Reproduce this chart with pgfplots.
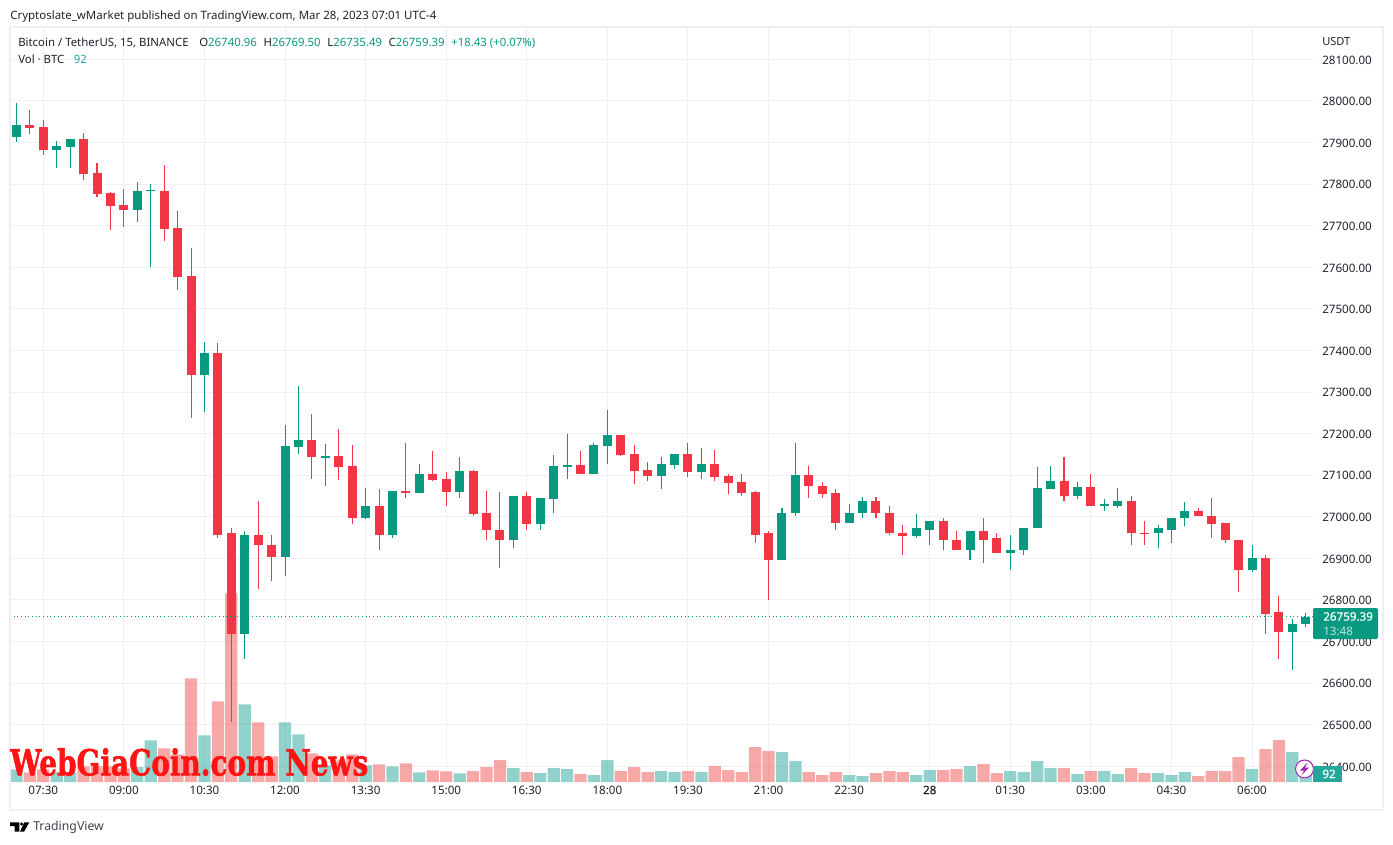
\documentclass[border=0pt]{standalone}
\usepackage{fontspec}
\setmainfont{Noto Sans}
\newfontfamily\wmfont[FakeBold=1.6]{DejaVu Serif}
\newfontfamily\fakeb[FakeBold=0.35]{Noto Sans}
\usepackage{pgfplots}
\usepackage{pgfplotstable}
\pgfplotsset{compat=1.18}
\definecolor{upc}{HTML}{089981}
\definecolor{dnc}{HTML}{F23645}
\definecolor{vup}{HTML}{26A69A}
\definecolor{vdn}{HTML}{EF5350}
\definecolor{gridc}{HTML}{EFF0F3}
\definecolor{framec}{HTML}{EEEFF4}
\definecolor{txt}{HTML}{1E222D}
\definecolor{boltc}{HTML}{9C27B0}
\definecolor{wmc}{HTML}{FF1414}
\pgfplotstableread{
i o h l c v
0 27914 27996 27902 27941 127
3 27883 27904 27839 27892 100
4 27890 27909 27839 27909 100
9 27738 27806 27709 27784 150
10 27783 27801 27600 27786 417
14 27340 27420 27251 27393 467
17 26718 26965 26658 26957 777
20 26903 27220 26858 27169 597
21 27167 27314 27150 27184 477
23 27142 27174 27075 27145 167
26 26996 27068 26994 27025 167
28 26957 27061 26950 27061 157
30 27056 27128 27056 27104 97
33 27059 27143 27044 27109 87
37 26943 27049 26926 27049 140
39 26982 27044 26967 27044 90
40 27042 27148 27010 27121 140
41 27119 27198 27090 27124 130
43 27102 27177 27102 27172 70
44 27169 27256 27128 27196 220
48 27097 27143 27066 27126 110
49 27124 27150 27116 27150 100
51 27107 27165 27092 27126 100
57 26895 27020 26895 27010 300
58 27008 27177 27003 27100 210
62 26986 27030 26986 27010 70
63 27008 27047 26996 27037 60
67 26953 27006 26948 26972 70
68 26969 26989 26931 26989 120
71 26919 26965 26895 26965 160
74 26914 26957 26873 26921 110
75 26919 26974 26907 26974 100
76 26972 27119 26972 27068 210
77 27066 27121 27066 27085 140
79 27049 27083 27042 27071 80
81 27027 27042 27013 27030 110
82 27027 27068 27022 27039 80
85 26960 26979 26926 26972 90
86 26969 26998 26936 26998 70
87 26996 27035 26977 27013 100
92 26873 26933 26866 26902 130
95 26724 26753 26632 26741 300
96 26741 26769.5 26735 26759.39 92
}\upt
\pgfplotstableread{
i o h l c v
1 27941 27977 27921 27936 97
2 27938 27955 27871 27883 127
5 27909 27924 27810 27825 157
6 27827 27851 27770 27777 157
7 27779 27782 27690 27748 157
8 27750 27789 27697 27738 137
11 27784 27847 27664 27692 337
12 27695 27736 27545 27577 277
13 27579 27647 27237 27340 1037
15 27393 27418 26950 26957 807
16 26960 26972 26507 26718 1887
18 26957 27039 26827 26931 597
19 26933 26957 26846 26904 257
22 27184 27247 27092 27143 287
24 27145 27210 27088 27119 217
25 27121 27172 26982 26996 277
27 27025 27066 26921 26957 177
29 27061 27177 27044 27056 187
31 27104 27157 27085 27088 117
32 27090 27107 27025 27059 107
34 27109 27112 27001 27006 110
35 27008 27063 26943 26967 150
36 26969 27059 26878 26943 220
38 27049 27059 26969 26982 100
42 27124 27157 27102 27102 80
45 27196 27196 27145 27148 110
46 27150 27172 27078 27109 150
47 27112 27131 27085 27097 100
50 27150 27177 27095 27107 110
52 27126 27160 27085 27095 160
53 27097 27104 27054 27080 120
54 27083 27104 27049 27056 100
55 27059 27061 26936 26957 350
56 26960 26965 26801 26895 310
59 27100 27121 27044 27073 100
60 27075 27083 27044 27054 70
61 27056 27066 26969 26986 100
64 27037 27047 26998 27008 90
65 27010 27025 26955 26960 110
66 26962 26979 26909 26953 100
69 26989 26998 26919 26943 120
70 26945 26965 26919 26919 130
72 26965 26998 26890 26945 180
73 26948 26962 26914 26914 90
78 27085 27143 27037 27049 140
80 27071 27104 27027 27027 110
83 27039 27051 26933 26960 140
84 26962 26989 26933 26960 90
88 27013 27020 27001 27001 60
89 27003 27044 26948 26982 110
90 26984 26984 26938 26943 110
91 26945 26945 26820 26873 250
93 26902 26907 26717 26767 330
94 26770 26810 26659 26724 420
}\dnt
\pgfplotsset{
  base/.style={
    at={(7.5pt,-586.5pt)}, anchor=south west,
    scale only axis, width=977.25pt, height=566.25pt,
    xmin=-0.4795, xmax=96.54,
    axis line style={draw=none}, tick style={draw=none},
    clip=true,
  },
  bare/.style={base, xtick=\empty, ytick=\empty},
}
\begin{document}
\begin{tikzpicture}
\useasboundingbox (0,0) rectangle (1044.75pt,-633.75pt);
\fill[white] (0,0) rectangle (1044.75pt,-633.75pt);
% grid and tick labels
\begin{axis}[base,
  ymin=26362.2, ymax=28177.7,
  xtick={2,8,14,20,26,32,38,44,50,56,62,68,74,80,86,92},
  xticklabels={07:30,09:00,10:30,12:00,13:30,15:00,16:30,18:00,19:30,21:00,22:30,{\fakeb 28},01:30,03:00,04:30,06:00},
  ytick={26400,26500,26600,26700,26800,26900,27000,27100,27200,27300,27400,27500,27600,27700,27800,27900,28000,28100},
  xmajorgrids, ymajorgrids,
  grid style={draw=gridc, line width=0.75pt},
  yticklabel pos=right,
  scaled y ticks=false,
  yticklabel style={/pgf/number format/fixed, /pgf/number format/fixed zerofill, /pgf/number format/precision=2, /pgf/number format/1000 sep={}, /pgf/number format/assume math mode=true, font=\fontsize{8.7pt}{10pt}\selectfont, text=txt, anchor=west, inner sep=0pt, xshift=6.75pt, yshift=-0.5pt},
  xticklabel style={font=\fontsize{8.7pt}{10pt}\selectfont, text=txt, anchor=center, inner sep=0pt, yshift=-6pt},
]
\end{axis}
% volume
\begin{axis}[bare, ymin=0, ymax=7550, ybar, bar width=9.2pt]
\addplot[bar shift=0pt, draw=none, fill=vup, fill opacity=0.5] table[x=i,y=v]{\upt};
\addplot[bar shift=0pt, draw=none, fill=vdn, fill opacity=0.5] table[x=i,y=v]{\dnt};
\end{axis}
% candles
\begin{axis}[bare, ymin=26362.2, ymax=28177.7]
\addplot[upc, line width=0.8pt, no markers, quiver={u=0, v=\thisrow{h}-\thisrow{l}}] table[x=i,y=l]{\upt};
\addplot[dnc, line width=0.8pt, no markers, quiver={u=0, v=\thisrow{h}-\thisrow{l}}] table[x=i,y=l]{\dnt};
\addplot[upc, line width=6.75pt, no markers, quiver={u=0, v=\thisrow{c}-\thisrow{o}}] table[x=i,y=o]{\upt};
\addplot[dnc, line width=6.75pt, no markers, quiver={u=0, v=\thisrow{o}-\thisrow{c}}] table[x=i,y=c]{\dnt};
\addplot[upc, line width=0.75pt, dotted] coordinates {(-0.4795,26759.39) (96.54,26759.39)};
\end{axis}
\begin{scope}[x=0.75pt,y=-0.75pt]
\draw[framec, line width=1.5pt] (10,27) rectangle (1382.5,809.5);
\node[anchor=west, inner sep=0pt, text=txt, font=\fontsize{8.62pt}{10pt}\selectfont] at (10,16.5) {Cryptoslate\_wMarket published on TradingView.com, Mar 28, 2023 07:01 UTC-4};
\node[anchor=west, inner sep=0pt, text=txt, font=\fontsize{8.55pt}{10pt}\selectfont] at (18,43) {Bitcoin / TetherUS, 15, BINANCE\hspace{8pt}O\textcolor{upc}{26740.96}\hspace{5pt}H\textcolor{upc}{26769.50}\hspace{5pt}L\textcolor{upc}{26735.49}\hspace{5pt}C\textcolor{upc}{26759.39}\hspace{5pt}\textcolor{upc}{+18.43 (+0.07\%)}};
\node[anchor=west, inner sep=0pt, text=txt, font=\fontsize{8.55pt}{10pt}\selectfont] at (18,59.5) {Vol · BTC\hspace{7pt}\textcolor{vup}{92}};
\node[anchor=west, inner sep=0pt, text=txt, font=\fontsize{8.3pt}{10pt}\selectfont] at (1322,42) {USDT};
% last price label
\fill[upc, rounded corners=1pt] (1313,608) rectangle (1378,639);
\node[anchor=west, inner sep=0pt, text=white, font=\fontsize{8.7pt}{10pt}\fakeb] at (1323,616.5) {26759.39};
\node[anchor=west, inner sep=0pt, text=white!75!upc, font=\fontsize{8.7pt}{10pt}\selectfont] at (1323,631) {13:48};
% volume label and lightning
\fill[white] (1304.5,769) circle (7.2pt);
\draw[boltc, line width=0.8pt] (1304.5,769) circle (6.75pt);
\fill[boltc] (1307.5,762.5) -- (1300,770.5) -- (1304,770.5) -- (1301.5,775.5) -- (1309,767.5) -- (1305,767.5) -- cycle;
\fill[vup] (1313,766) rectangle (1342,782);
\node[inner sep=0pt, text=white, font=\fontsize{8.7pt}{10pt}\fakeb] at (1329,774) {92};
% watermark
\node[anchor=west, inner sep=0pt, text=wmc] at (10,762) {\resizebox{268.5pt}{20.5pt}{\wmfont\bfseries WebGiaCoin.com News}};
% logo
\fill[black] (10,822.3) -- (19.3,822.3) -- (19.3,831.7) -- (14.7,831.7) -- (14.7,826) -- (10,826) -- cycle;
\fill[black] (21.7,824) circle (1.3pt);
\fill[black] (24.3,822.3) -- (29.3,822.3) -- (24,831.7) -- (20,831.7) -- cycle;
\node[anchor=west, inner sep=0pt, text=txt!85!white, font=\fontsize{9.2pt}{10pt}\selectfont] at (33,827.5) {TradingView};
\end{scope}
\end{tikzpicture}
\end{document}
